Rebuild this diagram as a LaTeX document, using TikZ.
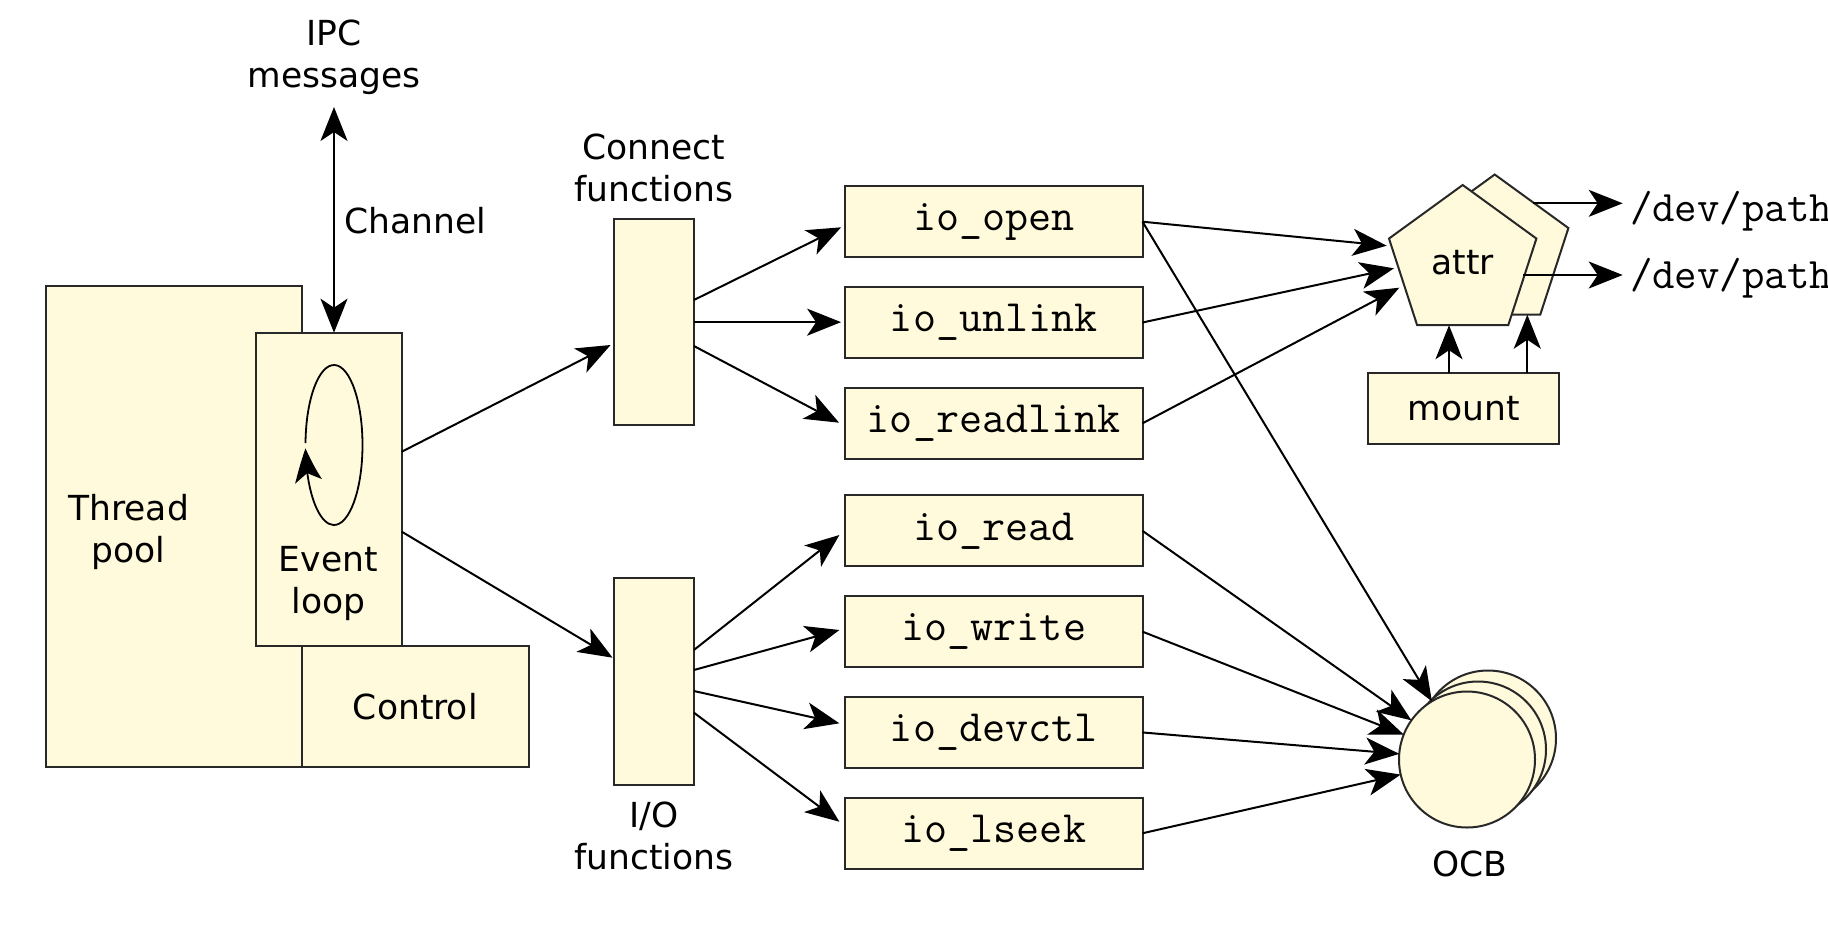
\documentclass[tikz,border=0pt]{standalone}
\usepackage{fontspec}
\setmainfont{DejaVu Sans}
\usetikzlibrary{arrows.meta,shapes.geometric,calc,bending}
\definecolor{boxfill}{RGB}{255,250,220}
\definecolor{boxline}{RGB}{40,40,40}
\begin{document}
\begin{tikzpicture}[x=0.5pt,y=-0.5pt,
  every node/.style={inner sep=0pt, outer sep=0pt},
  sans/.style={font=\fontsize{17.25}{21}\selectfont},
  mono/.style={font=\fontsize{22.4}{24}\ttfamily},
  devfont/.style={font=\fontsize{21.8}{24}\ttfamily},
  box/.style={draw=boxline, fill=boxfill, line width=1pt, rectangle},
  iobox/.style={box, mono, minimum width=148.7pt, minimum height=35.5pt},
  pent/.style={draw=boxline, fill=boxfill, line width=1pt, regular polygon, regular polygon sides=5, minimum size=77.5pt, sans},
  circ/.style={draw=boxline, fill=boxfill, line width=1pt, circle, minimum size=68pt},
  lbl/.style={sans, anchor=base},
  tip/.tip={Stealth[length=17pt,width=13.5pt,inset=4.5pt]},
  arr/.style={draw=black, line width=1pt, -tip},
  dbl/.style={draw=black, line width=1pt, tip-tip},
]
\useasboundingbox (0,0) rectangle (1828,928);
\clip (0,0) rectangle (1828,928);

% left block
\node[box, minimum width=128.15pt, minimum height=240.65pt] (tp) at (173.85,526.65) {};
\node[box, minimum width=73.15pt, minimum height=156.65pt] (ev) at (328.65,489.35) {};
\node[box, sans, minimum width=113.3pt, minimum height=60.65pt] (ctl) at (415.3,706.65) {Control};
\node[lbl] (tpl) at (128.6,520) {\begin{tabular}[t]{@{}c@{}}Thread\\pool\end{tabular}};
\node[lbl] (evl) at (328.4,571.7) {\begin{tabular}[t]{@{}c@{}}Event\\loop\end{tabular}};
\node[lbl] (ipc) at (334,45) {\begin{tabular}[t]{@{}c@{}}IPC\\messages\end{tabular}};
\node[sans, anchor=base west] (chan) at (344.6,233) {Channel};

% loop
\coordinate (loopc) at (334,445);
\draw[line width=0.9pt, -{Stealth[length=17pt,width=13.5pt,inset=4.5pt,bend]}]
  ($(loopc)+(178.6:14.25pt and 40pt)$) arc[start angle=178.6, end angle=-177.6, x radius=14.25pt, y radius=40pt];

% channel arrow
\coordinate (chtop) at (334,107);
\draw[dbl] (chtop) -- (chtop |- ev.north);

% function tables
\node[box, minimum width=40.15pt, minimum height=102.85pt] (cf) at (653.75,322.15) {};
\node[box, minimum width=40.15pt, minimum height=103.2pt] (iof) at (653.75,681.65) {};
\node[lbl] (cft) at (653.8,159.3) {\begin{tabular}[t]{@{}c@{}}Connect\\functions\end{tabular}};
\node[lbl] (ioft) at (653.8,827.5) {\begin{tabular}[t]{@{}c@{}}I/O\\functions\end{tabular}};

% io boxes
\node[iobox] (ioopen) at (993.8,221.7) {io\_open};
\node[iobox] (iounlink) at (993.8,322.5) {io\_unlink};
\node[iobox] (ioreadlink) at (993.8,423.3) {io\_readlink};
\node[iobox] (ioread) at (993.8,530.85) {io\_read};
\node[iobox] (iowrite) at (993.8,631.65) {io\_write};
\node[iobox] (iodevctl) at (993.8,732.45) {io\_devctl};
\node[iobox] (iolseek) at (993.8,833.25) {io\_lseek};

% attr and mount
\node[pent] (attrb) at (1494.7,252) {};
\node[pent] (attr) at (1462.7,262.5) {attr};
\node[box, sans, minimum width=95.5pt, minimum height=35.5pt] (mount) at (1463.8,408.8) {mount};
\node[devfont, anchor=base west, inner xsep=3.65pt] (dev1) at (1622.7,221.7) {/dev/path};
\node[devfont, anchor=base west, inner xsep=3.65pt] (dev2) at (1622.7,288.3) {/dev/path};

% OCB
\node[circ] (ocbb) at (1488,738.5) {};
\node[circ] (ocbm) at (1478,749.5) {};
\node[circ] (ocb) at (1467,759.5) {};
\node[lbl] (ocbl) at (1470,876.7) {OCB};

% event loop to tables
\draw[arr] ($(ev.east)+(0,-37.65)$) -- ($(cf.west)+(-3,22.85)$);
\draw[arr] ($(ev.east)+(0,42.35)$) -- ($(iof.west)+(-1,-23.95)$);

% connect table to functions
\draw[arr] ($(cf.east)+(0,-22.15)$) -- ($(ioopen.west)+(-4,5.6)$);
\draw[arr] (cf.east) -- ($(iounlink.west)+(-4,-0.35)$);
\draw[arr] ($(cf.east)+(0,23.85)$) -- ($(ioreadlink.west)+(-6,-0.6)$);

% io table to functions
\draw[arr] ($(iof.east)+(0,-31.65)$) -- ($(ioread.west)+(-5.7,4.15)$);
\draw[arr] ($(iof.east)+(0,-11.65)$) -- ($(iowrite.west)+(-5.7,-1.65)$);
\draw[arr] ($(iof.east)+(0,9.35)$) -- ($(iodevctl.west)+(-5.7,-9.15)$);
\draw[arr] ($(iof.east)+(0,31)$) -- ($(iolseek.west)+(-5.7,-11.55)$);

% functions to attr
\draw[arr] (ioopen.east) -- ($(attr.center)+(-76,-16.8)$);
\draw[arr] (iounlink.east) -- ($(attr.center)+(-68.7,5.8)$);
\draw[arr] (ioreadlink.east) -- ($(attr.center)+(-63.4,25.2)$);

% functions to OCB
\draw[arr] (ioopen.east) -- (ocb);
\draw[arr] (ioread.east) -- (ocb);
\draw[arr] (iowrite.east) -- (ocb);
\draw[arr] (iodevctl.east) -- (ocb);
\draw[arr] (iolseek.east) -- (ocb);

% mount to attr
\coordinate (m1) at ($(mount.north)+(-14.8,0)$);
\coordinate (m2) at ($(mount.north)+(63.5,0)$);
\draw[arr] (m1) -- (m1 |- attr.south);
\draw[arr] (m2) -- (m2 |- attrb.south);

% attr to /dev/path
\coordinate (d1s) at ($(attrb.center)+(38.6,-48.7)$);
\coordinate (d2s) at ($(attr.center)+(60.6,12.5)$);
\draw[arr] (d1s) -- (d1s -| dev1.west);
\draw[arr] (d2s) -- (d2s -| dev2.west);
\end{tikzpicture}
\end{document}
